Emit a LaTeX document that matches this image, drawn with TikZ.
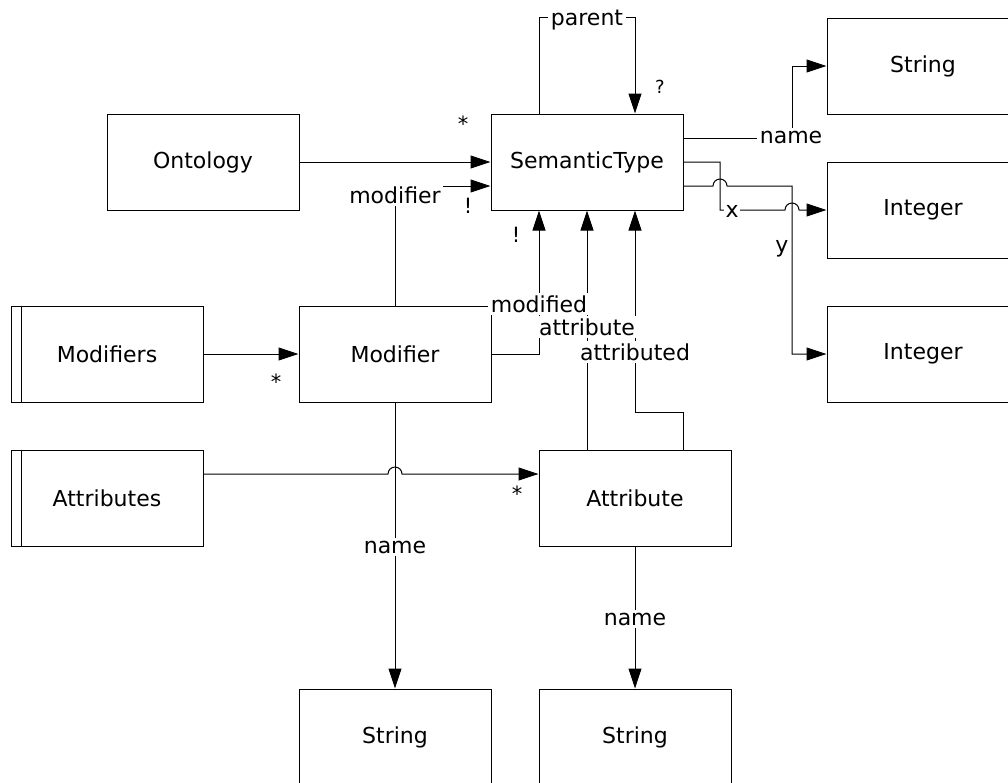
\documentclass[tikz,border=0pt]{standalone}
\usepackage{fontspec}
\setmainfont{DejaVu Sans}
\usetikzlibrary{arrows.meta}
\begin{document}
\begin{tikzpicture}[x=1pt,y=-1pt,
  line width=1pt,
  every node/.style={font=\fontsize{22}{26}\selectfont},
  box/.style={draw, minimum width=192pt, minimum height=96pt, inner sep=0pt},
  lbl/.style={fill=white, inner sep=2.5pt, anchor=base},
  multmark/.style={font=\fontsize{21}{24}\selectfont, inner sep=0pt},
  arr/.style={-{Triangle[length=20pt,width=13pt]}},
  hop/.style={start angle=180, end angle=360, radius=7}]
\useasboundingbox (0,0) rectangle (1008,782);
\clip (0,0) rectangle (1008,782);

% classes
\node[box] (ont)   at (203,162) {Ontology};
\node[box] (sem)   at (587,162) {SemanticType};
\node[box] (strA)  at (923,66)  {String};
\node[box] (intA)  at (923,210) {Integer};
\node[box] (intB)  at (923,354) {Integer};
\node[box] (mods)  at (107,354) {Modifiers};
\node[box] (attrs) at (107,498) {Attributes};
\node[box] (mod)   at (395,354) {Modifier};
\node[box] (attr)  at (635,498) {Attribute};
\node[box] (strL)  at (395,737) {String};
\node[box] (strR)  at (635,737) {String};

% collection bars
\draw ([xshift=11pt]mods.north west) -- ([xshift=11pt]mods.south west);
\draw ([xshift=11pt]attrs.north west) -- ([xshift=11pt]attrs.south west);

% parent self reference
\draw[arr] ([xshift=-48pt]sem.north) -- ++(0,-96) -- ++(96,0) -- ([xshift=48pt]sem.north);
\node[lbl] (lparent) at (587,25) {parent};

% ontology
\draw[arr] (ont.east) -- (sem.west);

% modifier
\draw[arr] (mod.north) -- (395,186) -- ([yshift=-24pt]sem.west);
\node[lbl] (lmodifier) at (395,203) {modifier};

% modified
\draw[arr] (mod.east) -- (539,354) -- ([xshift=-48pt]sem.south);
% attribute
\draw[arr] ([xshift=-48pt]attr.north) -- (sem.south);
% attributed
\draw[arr] ([xshift=48pt]attr.north) -- ++(0,-37) -| ([xshift=48pt]sem.south);
\node[lbl] (lmodified) at (539,312) {modified};
\node[lbl] (lattribute) at (587,335) {attribute};
\node[lbl] (lattributed) at (635,360) {attributed};

% collections
\draw[arr] (mods.east) -- (mod.west);
\draw[arr] ([yshift=24pt]attrs.east) -- (388,474) arc[hop] -- ([yshift=24pt]attr.west);

% names
\draw[arr] (mod.south) -- (strL.north);
\node[lbl] (lnameL) at (395,553) {name};
\draw[arr] (attr.south) -- (strR.north);
\node[lbl] (lnameR) at (635,625) {name};

% semantic type features
\draw[arr] ([yshift=24pt]sem.east) -- (792,138) -- (792,66) -- (strA.west);
\node[lbl] (lnameT) at (791,143) {name};
\draw[arr] ([yshift=-24pt]sem.east) -- (713,186) arc[hop] -- (792,186) -- (792,354) -- (intB.west);
\draw[arr] (sem.east) -- (720,162) -- (720,210) -- (785,210) arc[hop] -- (intA.west);
\node[lbl, inner sep=1.5pt] (lx) at (732,217) {x};
\node[anchor=base east, inner sep=0pt] (ly) at (789,252) {y};

% multiplicities
\node[multmark] (m1) at (463,124) {*};
\node[multmark, font=\fontsize{18}{20}\selectfont] (m2) at (660,87) {?};
\node[multmark] (m3) at (468,206) {!};
\node[multmark] (m4) at (516,235) {!};
\node[multmark] (m5) at (276,382) {*};
\node[multmark] (m6) at (517,494) {*};
\end{tikzpicture}
\end{document}
